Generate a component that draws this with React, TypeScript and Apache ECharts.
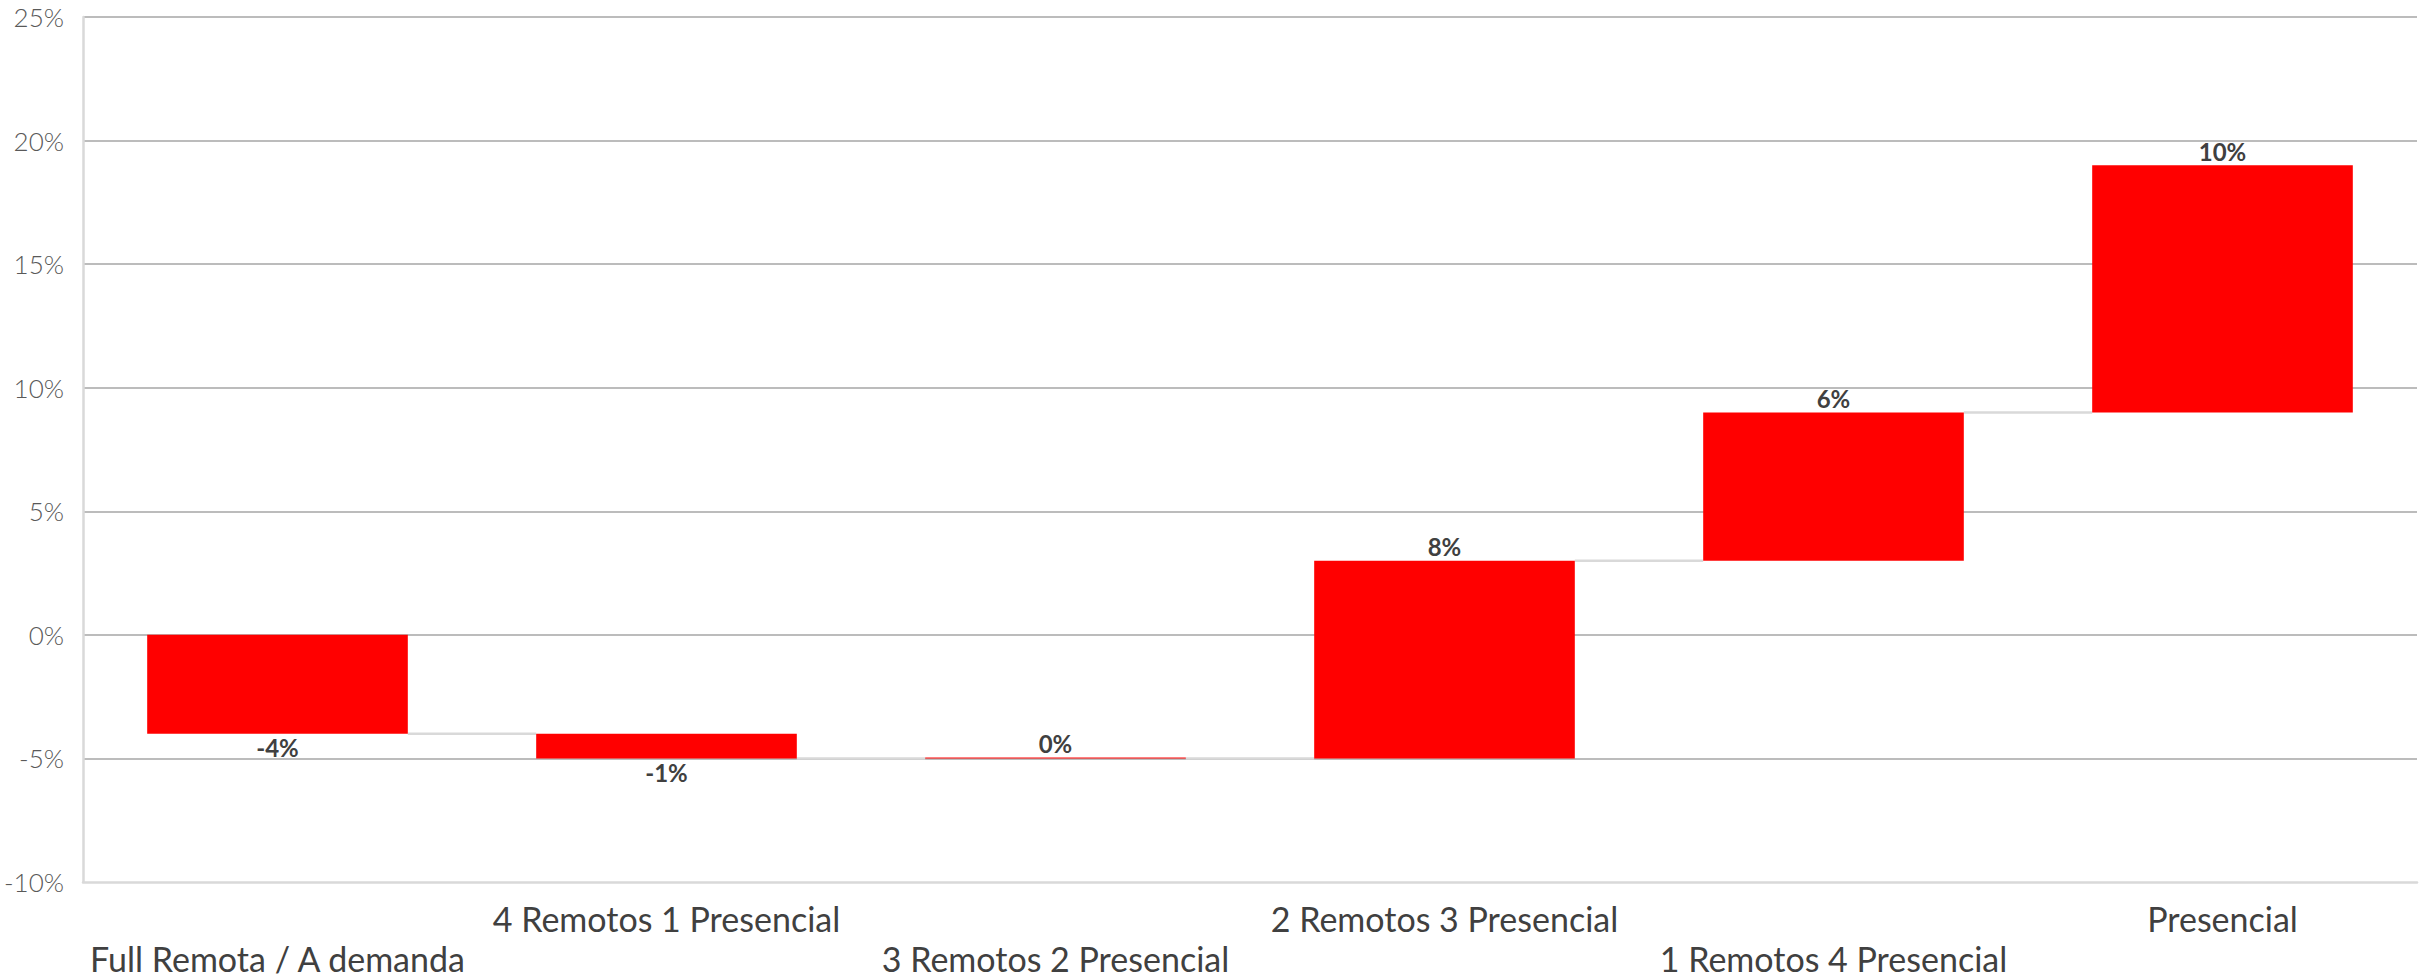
import React, { useEffect, useRef } from "react";
import * as echarts from "echarts";

const categories = [
  "Full Remota / A demanda",
  "4 Remotos 1 Presencial",
  "3 Remotos 2 Presencial",
  "2 Remotos 3 Presencial",
  "1 Remotos 4 Presencial",
  "Presencial",
];
const changes = [-4, -1, 0, 8, 6, 10];
const yTicks = { min: -10, max: 25, step: 5 };

const BAR_RATIO = 0.67;

export default function App() {
  const ref = useRef<HTMLDivElement>(null);
  useEffect(() => {
    if (!ref.current) return;
    const chart = echarts.init(ref.current, null, { renderer: "svg" });
    const bases: number[] = [];
    const ends: number[] = [];
    let acc = 0;
    changes.forEach((c) => {
      bases.push(acc);
      acc += c;
      ends.push(acc);
    });
    const connectors = ends.slice(0, -1).map((v, i) => [i, v]);
    chart.setOption({
      animation: false,
      grid: { left: 83, right: 16, top: 17, bottom: 96, containLabel: false },
      xAxis: {
        type: "category",
        data: categories,
        axisLine: { onZero: false, lineStyle: { color: "#d9d9d9", width: 2.5 } },
        axisTick: { show: false },
        splitLine: { show: false },
        axisLabel: {
          interval: 0,
          margin: 16,
          color: "#404040",
          fontFamily: "Lato",
          fontSize: 34,
          lineHeight: 40,
          formatter: (v: string, i: number) => (i % 2 === 0 ? "\n" + v : v),
        },
      },
      yAxis: {
        type: "value",
        min: yTicks.min,
        max: yTicks.max,
        interval: yTicks.step,
        axisLine: { show: true, lineStyle: { color: "#d9d9d9", width: 2.5 } },
        axisTick: { show: false },
        splitLine: { showMinLine: false, lineStyle: { color: "#a6a6a6", width: 1.5 } },
        axisLabel: {
          formatter: "{value}%",
          margin: 19,
          color: "#595959",
          fontFamily: "Lato",
          fontWeight: 300,
          fontSize: 26,
        },
      },
      series: [
        {
          type: "bar",
          stack: "wf",
          stackStrategy: "all",
          barWidth: BAR_RATIO * 100 + "%",
          itemStyle: { color: "transparent" },
          emphasis: { disabled: true },
          data: bases,
          z: 2,
        },
        {
          type: "bar",
          stack: "wf",
          stackStrategy: "all",
          barWidth: BAR_RATIO * 100 + "%",
          barMinHeight: 1,
          itemStyle: { color: "#ff0000" },
          z: 3,
          label: {
            show: true,
            distance: 2,
            color: "#404040",
            fontFamily: "Lato",
            fontWeight: "bold",
            fontSize: 24,
            formatter: (p: any) => changes[p.dataIndex] + "%",
          },
          data: changes.map((c) => ({
            value: c,
            label: { position: c < 0 ? "bottom" : "top" },
          })),
        },
        {
          type: "custom",
          z: 1,
          silent: true,
          encode: { x: 0, y: 1 },
          data: connectors,
          renderItem: (params: any, api: any) => {
            const i = api.value(0);
            const lvl = api.value(1);
            const p0 = api.coord([i, lvl]);
            const p1 = api.coord([i + 1, lvl]);
            const bw = api.size([1, 0])[0] * BAR_RATIO;
            return {
              type: "line",
              shape: { x1: p0[0] + bw / 2, y1: p0[1], x2: p1[0] - bw / 2, y2: p1[1] },
              style: { stroke: "#d9d9d9", lineWidth: 2.5 },
            };
          },
        },
      ],
    });
    return () => chart.dispose();
  }, []);
  return (
    <div
      ref={ref}
      style={{ position: "fixed", left: 0, top: 0, width: 2433, height: 978, background: "#fff" }}
    />
  );
}
